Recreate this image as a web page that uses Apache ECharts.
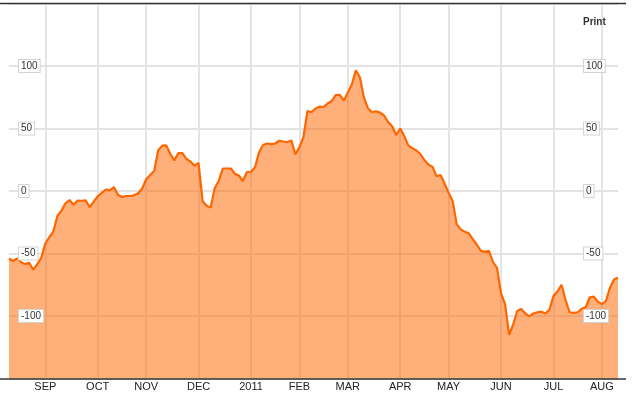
<!DOCTYPE html>
<html>
<head>
<meta charset="utf-8">
<script src="https://cdn.jsdelivr.net/npm/echarts@6/dist/echarts.min.js"></script>
<style>
html,body{margin:0;padding:0;background:#fff;}
#chart{width:633px;height:395px;}
</style>
</head>
<body>
<div id="chart"></div>
<script>
// Series values (one per sampled trading-day position, Aug 2010 - Aug 2011)
const values = [
  -54,-56,-54,-57,-58.5,-57.5,-63,-58.5,-53.5,-42,
  -37,-32.5,-20,-15.7,-9.8,-7.2,-11,-7.6,-7.8,-7.5,
  -13,-8.5,-4.2,-1.5,1.2,0.5,3.2,-3,-4.8,-4,
  -4,-3.5,-1.8,1.8,9.2,12.8,16,32.6,36.3,36.5,
  29.6,24.5,30.4,30.3,25.6,23.5,20.3,22.5,-8,-11.8,
  -13.3,2.2,8,18,18,18,13.8,12.4,8,15.2,
  15.4,19,31,36.8,38,37.5,38,40.2,39.6,39,
  40.5,29.3,35,43,64,63,66,67.5,67.2,70,
  72,76.7,77,72.3,78.7,85.2,96.5,91,74.7,66.2,
  63,63.8,62.7,60.4,55.2,51.8,44.8,50,44,36.5,
  34.3,32.4,29.6,24.8,21,19.5,11.8,12.8,6,-1.5,
  -8,-26.5,-30.7,-32.6,-33.9,-38.5,-43,-47.8,-48.7,-47.8,
  -56.8,-61.5,-82,-90.5,-115,-107,-96,-94.4,-98,-100.3,
  -98,-97,-96.5,-98,-95,-84,-80.2,-75,-87.3,-97,
  -97.5,-97,-94.3,-93,-85,-84.5,-88.5,-90.5,-88,-77.5,
  -70.8,-69.3
];
// Month tick labels and the sample index at which each month starts
const monthLabels = ['SEP','OCT','NOV','DEC','2011','FEB','MAR','APR','MAY','JUN','JUL','AUG'];
const monthIdx = [9,22,34,47,60,72,84,97,109,122,135,147];
// Y tick values
const yTicks = [-100,-50,0,50,100];

const categories = values.map((_, i) => String(i));
const isMonth = (i) => monthIdx.indexOf(i) >= 0;

const chart = echarts.init(document.getElementById('chart'), null, {renderer: 'canvas'});
const yLabel = {
  show: true,
  inside: true,
  fontFamily: 'Liberation Sans, Arial, sans-serif',
  fontSize: 10,
  color: '#333',
  backgroundColor: '#fff',
  borderColor: '#d4d4d4',
  borderWidth: 1,
  padding: [1, 2, 1, 2],
  showMinLabel: false,
  showMaxLabel: false,
  formatter: (v) => (yTicks.indexOf(v) >= 0 ? String(v) : '')
};
const yBase = {type: 'value', min: -150, max: 150, interval: 50,
  axisLine: {show: false}, axisTick: {show: false}};
chart.setOption({
  animation: false,
  grid: {left: 9, right: 15, top: 3.5, bottom: 16.5, containLabel: false},
  xAxis: {
    type: 'category',
    data: categories,
    boundaryGap: false,
    axisLine: {show: false},
    axisTick: {show: false},
    axisLabel: {
      interval: (i) => isMonth(i),
      formatter: (v) => { const k = monthIdx.indexOf(Number(v)); return k >= 0 ? monthLabels[k] : ''; },
      fontFamily: 'Liberation Sans, Arial, sans-serif',
      fontSize: 11,
      color: '#222',
      margin: 3
    },
    splitLine: {show: true, interval: (i) => isMonth(i), lineStyle: {color: '#e4e4e4', width: 2}}
  },
  yAxis: [
    Object.assign({}, yBase, {position: 'left', z: 0,
      axisLabel: {show: false},
      splitLine: {show: true, lineStyle: {color: '#dadada', width: 1.5}}}),
    Object.assign({}, yBase, {position: 'right', z: 10,
      axisLabel: Object.assign({}, yLabel, {margin: 34, align: 'left'}),
      splitLine: {show: false}}),
    Object.assign({}, yBase, {position: 'left', z: 10,
      axisLabel: Object.assign({}, yLabel, {margin: 10}),
      splitLine: {show: false}})
  ],
  series: [{
    type: 'line',
    data: values,
    symbol: 'none',
    smooth: false,
    lineStyle: {color: '#ff6600', width: 2.2},
    areaStyle: {color: '#ff6600', opacity: 0.52, origin: 'start'},
    z: 2
  }],
  graphic: [
    {type: 'line', shape: {x1: 0, y1: 3.5, x2: 626, y2: 3.5}, style: {stroke: '#333', lineWidth: 1.5}, z: 100},
    {type: 'line', shape: {x1: 0, y1: 379, x2: 626, y2: 379}, style: {stroke: '#333', lineWidth: 1.5}, z: 100},
    {type: 'text', left: 583, top: 17, style: {text: 'Print', fontFamily: 'Liberation Sans, Arial, sans-serif', fontSize: 10, fontWeight: 'bold', fill: '#333'}, z: 100}
  ]
});
</script>
</body>
</html>
